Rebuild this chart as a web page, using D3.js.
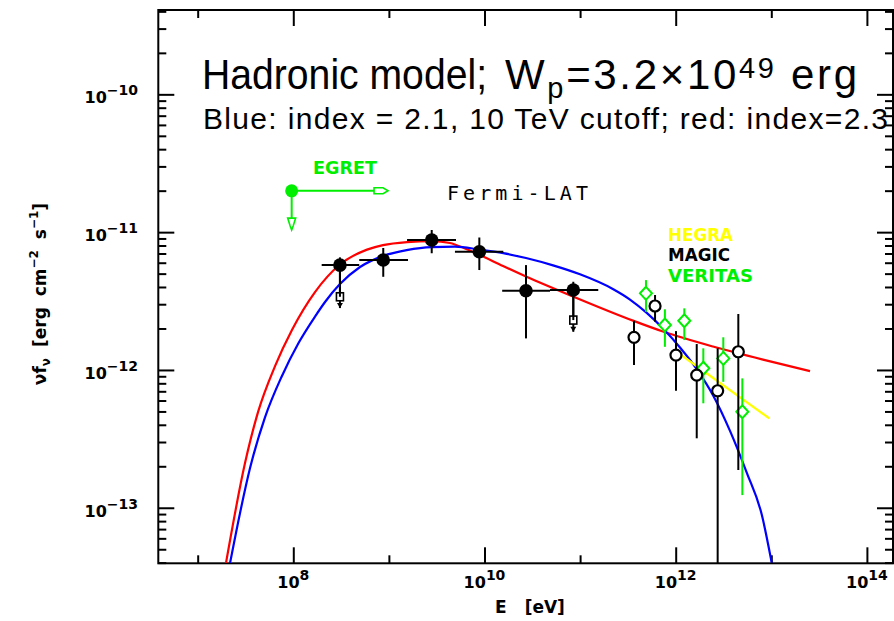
<!DOCTYPE html>
<html><head><meta charset="utf-8">
<script src="https://cdn.jsdelivr.net/npm/d3@7"></script>
<style>body{margin:0;background:#fff;} svg{display:block;}</style>
</head><body>
<script>
// ---------------- data (log10 values) ----------------
const xDomainLog = [6.588, 14.273];
const yDomainLog = [-13.403, -9.388];
const xLabelDecades = [8, 10, 12, 14];
const xMinorDecades = [7, 9, 11, 13];
const xTickLabels = ["8", "10", "12", "14"];
const yDecades = [-13, -12, -11, -10];
const yTickLabels = ["\u221213", "\u221212", "\u221211", "\u221210"];

// Fermi-LAT
const fermiLogE   = [8.488, 8.941, 9.448, 9.946, 10.434, 10.929];
const fermiLogELo = [8.297, 8.690, 9.190, 9.691, 10.185, 10.685];
const fermiLogEHi = [8.690, 9.200, 9.702, 10.197, 10.685, 11.190];
const fermiLogF   = [-11.239, -11.202, -11.057, -11.142, -11.425, -11.420];
const fermiLogFLo = [-11.469, -11.324, -11.154, -11.275, -11.771, -11.638];
const fermiLogFHi = [-11.183, -11.115, -10.985, -11.038, -11.239, -11.360];
// open-square limits with arrows
const limLogE = [8.488, 10.929];
const limLogF = [-11.469, -11.638];
const limArrowLogF = [-11.551, -11.723];

// EGRET
const egretLogE = 7.983, egretLogF = -10.700;
const egretArrowLogE = 8.991, egretArrowLogF = -10.985;

// MAGIC
const magicLogE   = [11.564, 11.784, 12.003, 12.220, 12.439, 12.655];
const magicLogF   = [-11.763, -11.536, -11.892, -12.037, -12.151, -11.868];
const magicLogFHi = [-11.643, -11.456, -11.718, -11.812, -11.843, -11.594];
const magicLogFLo = [-11.964, -11.650, -12.151, -12.496, -13.500, -12.726];

// VERITAS
const veritasLogE   = [11.689, 11.887, 12.090, 12.289, 12.498, 12.697];
const veritasLogF   = [-11.444, -11.674, -11.643, -11.988, -11.916, -12.303];
const veritasLogFHi = [-11.348, -11.560, -11.553, -11.843, -11.763, -12.061];
const veritasLogFLo = [-11.578, -11.832, -11.783, -12.242, -12.086, -12.908];

// HEGRA power-law fit
const hegraLogE = [12.010, 12.979];
const hegraLogF = [-11.868, -12.351];

// Model curves (red: index 2.3; blue: index 2.1 with 10 TeV cutoff)
const redLogE = [7.296, 7.495, 7.631, 7.809, 7.986, 8.227, 8.488, 8.771, 8.938, 9.189, 9.451, 9.639, 9.796, 9.942, 10.194, 10.434, 10.926, 11.553, 11.867, 12.390, 12.913, 13.405];
const redLogF = [-13.401, -12.676, -12.306, -11.972, -11.710, -11.435, -11.235, -11.127, -11.094, -11.072, -11.065, -11.079, -11.119, -11.163, -11.246, -11.322, -11.467, -11.642, -11.721, -11.830, -11.925, -12.008];
const blueLogE = [7.338, 7.442, 7.547, 7.704, 7.879, 8.052, 8.227, 8.332, 8.488, 8.698, 8.941, 9.186, 9.448, 9.691, 9.946, 10.197, 10.434, 10.717, 10.999, 11.347, 11.522, 11.697, 11.870, 12.045, 12.220, 12.393, 12.568, 12.743, 12.900, 13.004];
const blueLogF = [-13.403, -13.041, -12.714, -12.344, -12.047, -11.808, -11.613, -11.507, -11.377, -11.253, -11.172, -11.130, -11.108, -11.105, -11.126, -11.152, -11.188, -11.241, -11.306, -11.414, -11.489, -11.586, -11.701, -11.837, -11.994, -12.187, -12.442, -12.745, -13.049, -13.398];

// ---------------- layout ----------------
const W = 894, H = 621;
const L = 158.3, R = 893, T = 10, B = 563.3;
const p10 = v => Math.pow(10, v);

const svg = d3.select("body").append("svg").attr("width", W).attr("height", H);
const x = d3.scaleLog().domain(xDomainLog.map(p10)).range([L, R]);
const y = d3.scaleLog().domain(yDomainLog.map(p10)).range([B, T]);

svg.append("defs").append("clipPath").attr("id", "clip")
  .append("rect").attr("x", L).attr("y", T).attr("width", R - L).attr("height", B - T);

// ---------------- axes / ticks ----------------
const tickStyle = g => { g.select(".domain").remove(); g.selectAll("line").attr("stroke", "#000").attr("stroke-width", 2); };
svg.append("g").attr("transform", `translate(0,${B})`)
  .call(d3.axisBottom(x).tickValues(xLabelDecades.map(p10)).tickSize(-16).tickFormat("")).call(tickStyle);
svg.append("g").attr("transform", `translate(0,${B})`)
  .call(d3.axisBottom(x).tickValues(xMinorDecades.map(p10)).tickSize(-8).tickFormat("")).call(tickStyle);
svg.append("g").attr("transform", `translate(0,${T})`)
  .call(d3.axisTop(x).tickValues(xLabelDecades.map(p10)).tickSize(-16).tickFormat("")).call(tickStyle);
svg.append("g").attr("transform", `translate(0,${T})`)
  .call(d3.axisTop(x).tickValues(xMinorDecades.map(p10)).tickSize(-8).tickFormat("")).call(tickStyle);

const yMinor = [];
[-14, -13, -12, -11, -10].forEach(d => { for (let m = 2; m <= 9; m++) { const v = m * p10(d); if (v >= p10(yDomainLog[0]) && v <= p10(yDomainLog[1])) yMinor.push(v); } });
svg.append("g").attr("transform", `translate(${L},0)`)
  .call(d3.axisLeft(y).tickValues(yDecades.map(p10)).tickSize(-16).tickFormat("")).call(tickStyle);
svg.append("g").attr("transform", `translate(${L},0)`)
  .call(d3.axisLeft(y).tickValues(yMinor).tickSize(-8).tickFormat("")).call(tickStyle);
svg.append("g").attr("transform", `translate(${R},0)`)
  .call(d3.axisRight(y).tickValues(yDecades.map(p10)).tickSize(-16).tickFormat("")).call(tickStyle);
svg.append("g").attr("transform", `translate(${R},0)`)
  .call(d3.axisRight(y).tickValues(yMinor).tickSize(-8).tickFormat("")).call(tickStyle);

svg.append("rect").attr("x", L).attr("y", T).attr("width", R - L).attr("height", B - T)
  .attr("fill", "none").attr("stroke", "#000").attr("stroke-width", 2);

const tickFont = "'DejaVu Sans', sans-serif";
// x tick labels
xLabelDecades.forEach((d, i) => {
  const t = svg.append("text").attr("x", x(p10(d))).attr("y", 588).attr("text-anchor", "middle")
    .attr("font-family", tickFont).attr("font-weight", "bold").attr("font-size", 16).attr("fill", "#000");
  t.append("tspan").text("10");
  t.append("tspan").attr("dy", -8).attr("font-size", 14).text(xTickLabels[i]);
});
// y tick labels
yDecades.forEach((d, i) => {
  const t = svg.append("text").attr("x", 138).attr("y", y(p10(d)) + 9).attr("text-anchor", "end")
    .attr("font-family", tickFont).attr("font-weight", "bold").attr("font-size", 16).attr("fill", "#000");
  t.append("tspan").text("10");
  t.append("tspan").attr("dy", -8).attr("font-size", 14).text(yTickLabels[i]);
});
// axis titles
svg.append("text").attr("x", 530).attr("y", 613).attr("text-anchor", "middle")
  .attr("font-family", tickFont).attr("font-weight", "bold").attr("font-size", 17)
  .attr("word-spacing", 12).text("E [eV]");
const yt = svg.append("text").attr("transform", "translate(46,294) rotate(-90)").attr("text-anchor", "middle")
  .attr("font-family", tickFont).attr("font-weight", "bold").attr("font-size", 17).attr("word-spacing", 5);
yt.append("tspan").text("\u03BDf");
yt.append("tspan").attr("dy", 4).attr("font-size", 12).text("\u03BD");
yt.append("tspan").attr("dy", -4).text(" [erg cm");
yt.append("tspan").attr("dy", -8).attr("font-size", 12).text("\u22122");
yt.append("tspan").attr("dy", 8).text(" s");
yt.append("tspan").attr("dy", -8).attr("font-size", 12).text("\u22121");
yt.append("tspan").attr("dy", 8).text("]");

// ---------------- plot content ----------------
const plot = svg.append("g").attr("clip-path", "url(#clip)");
const line = d3.line().x(d => x(p10(d[0]))).y(d => y(p10(d[1]))).curve(d3.curveMonotoneX);

plot.append("path").datum(redLogE.map((e, i) => [e, redLogF[i]])).attr("d", line)
  .attr("fill", "none").attr("stroke", "#ff0000").attr("stroke-width", 2.2);
plot.append("path").datum(blueLogE.map((e, i) => [e, blueLogF[i]])).attr("d", line)
  .attr("fill", "none").attr("stroke", "#0000ff").attr("stroke-width", 2.2);
plot.append("path").datum(hegraLogE.map((e, i) => [e, hegraLogF[i]])).attr("d", d3.line().x(d => x(p10(d[0]))).y(d => y(p10(d[1]))))
  .attr("fill", "none").attr("stroke", "#ffff00").attr("stroke-width", 2.2);

// EGRET
const green = "#00ee00";
const ex = x(p10(egretLogE)), ey = y(p10(egretLogF));
const eax = x(p10(egretArrowLogE)), eay = y(p10(egretArrowLogF));
plot.append("line").attr("x1", ex).attr("y1", ey).attr("x2", eax - 12).attr("y2", ey).attr("stroke", green).attr("stroke-width", 2);
plot.append("path").attr("d", `M${eax - 14},${ey - 3}L${eax - 5},${ey - 3}L${eax},${ey}L${eax - 5},${ey + 3}L${eax - 14},${ey + 3}Z`)
  .attr("fill", "#fff").attr("stroke", green).attr("stroke-width", 1.6);
plot.append("line").attr("x1", ex).attr("y1", ey).attr("x2", ex).attr("y2", eay - 11).attr("stroke", green).attr("stroke-width", 2);
plot.append("path").attr("d", `M${ex - 4},${eay - 12}L${ex + 4},${eay - 12}L${ex + 1.5},${eay - 4}L${ex},${eay}L${ex - 1.5},${eay - 4}Z`)
  .attr("fill", "#fff").attr("stroke", green).attr("stroke-width", 1.6);
plot.append("circle").attr("cx", ex).attr("cy", ey).attr("r", 6.5).attr("fill", green);

// Fermi limits (open squares with arrows)
limLogE.forEach((e, i) => {
  const cx = x(p10(e)), cy = y(p10(limLogF[i])), ay = y(p10(limArrowLogF[i]));
  plot.append("line").attr("x1", cx).attr("y1", y(p10(fermiLogF[fermiLogE.indexOf(e)]))).attr("x2", cx).attr("y2", ay)
    .attr("stroke", "#000").attr("stroke-width", 2);
  plot.append("path").attr("d", `M${cx - 3},${ay - 5}L${cx + 3},${ay - 5}L${cx},${ay}Z`).attr("fill", "#000");
  plot.append("rect").attr("x", cx - 3.5).attr("y", cy - 4).attr("width", 7).attr("height", 8)
    .attr("fill", "#fff").attr("stroke", "#000").attr("stroke-width", 1.6);
});

// Fermi points
fermiLogE.forEach((e, i) => {
  const cx = x(p10(e)), cy = y(p10(fermiLogF[i]));
  plot.append("line").attr("x1", x(p10(fermiLogELo[i]))).attr("x2", x(p10(fermiLogEHi[i]))).attr("y1", cy).attr("y2", cy)
    .attr("stroke", "#000").attr("stroke-width", 2);
  plot.append("line").attr("x1", cx).attr("x2", cx).attr("y1", y(p10(fermiLogFHi[i]))).attr("y2", y(p10(fermiLogFLo[i])))
    .attr("stroke", "#000").attr("stroke-width", 2);
  plot.append("circle").attr("cx", cx).attr("cy", cy).attr("r", 6.8).attr("fill", "#000");
});

// VERITAS
veritasLogE.forEach((e, i) => {
  const cx = x(p10(e)), cy = y(p10(veritasLogF[i]));
  plot.append("line").attr("x1", cx).attr("x2", cx).attr("y1", y(p10(veritasLogFHi[i]))).attr("y2", y(p10(veritasLogFLo[i])))
    .attr("stroke", green).attr("stroke-width", 2);
  plot.append("path").attr("d", `M${cx},${cy - 6.5}L${cx + 6},${cy}L${cx},${cy + 6.5}L${cx - 6},${cy}Z`)
    .attr("fill", "#fff").attr("stroke", green).attr("stroke-width", 2);
});

// MAGIC
magicLogE.forEach((e, i) => {
  const cx = x(p10(e)), cy = y(p10(magicLogF[i]));
  plot.append("line").attr("x1", cx).attr("x2", cx).attr("y1", y(p10(magicLogFHi[i]))).attr("y2", y(p10(magicLogFLo[i])))
    .attr("stroke", "#000").attr("stroke-width", 2);
  plot.append("circle").attr("cx", cx).attr("cy", cy).attr("r", 5.5)
    .attr("fill", "#fff").attr("stroke", "#000").attr("stroke-width", 2.2);
});

// ---------------- labels ----------------
svg.append("text").attr("x", 313).attr("y", 174).attr("font-family", tickFont).attr("font-weight", "bold")
  .attr("font-size", 17).attr("fill", green).attr("textLength", 64).attr("lengthAdjust", "spacingAndGlyphs").text("EGRET");
svg.append("text").attr("x", 447).attr("y", 200).attr("font-family", "'DejaVu Sans Mono', monospace")
  .attr("font-size", 20).attr("fill", "#000").attr("textLength", 141).attr("lengthAdjust", "spacing").text("Fermi-LAT");
const legend = [["HEGRA", "#ffff00", 65], ["MAGIC", "#000", 62], ["VERITAS", green, 85]];
legend.forEach((d, i) => {
  svg.append("text").attr("x", 668).attr("y", 241 + i * 20.3).attr("font-family", tickFont).attr("font-weight", "bold")
    .attr("font-size", 17).attr("fill", d[1]).attr("textLength", d[2]).attr("lengthAdjust", "spacingAndGlyphs").text(d[0]);
});

const titleFont = "'Liberation Sans', Arial, sans-serif";
svg.append("text").attr("x", 202).attr("y", 89).attr("font-family", titleFont).attr("font-size", 42)
  .attr("fill", "#000").attr("textLength", 285).attr("lengthAdjust", "spacingAndGlyphs").text("Hadronic model;");
const tt = svg.append("text").attr("x", 505).attr("y", 89).attr("font-family", titleFont).attr("font-size", 42)
  .attr("fill", "#000").attr("textLength", 352).attr("lengthAdjust", "spacing");
tt.append("tspan").text("W");
tt.append("tspan").attr("dy", 9).attr("font-size", 29).text("p");
tt.append("tspan").attr("dy", -9).text("=3.2\u00D710");
tt.append("tspan").attr("dy", -11).attr("font-size", 29).text("49");
tt.append("tspan").attr("dy", 11).text(" erg");
svg.append("text").attr("x", 203).attr("y", 129).attr("font-family", titleFont).attr("font-size", 30)
  .attr("fill", "#000").attr("textLength", 685).attr("lengthAdjust", "spacing")
  .text("Blue: index = 2.1, 10 TeV cutoff; red: index=2.3");
</script>
</body></html>
